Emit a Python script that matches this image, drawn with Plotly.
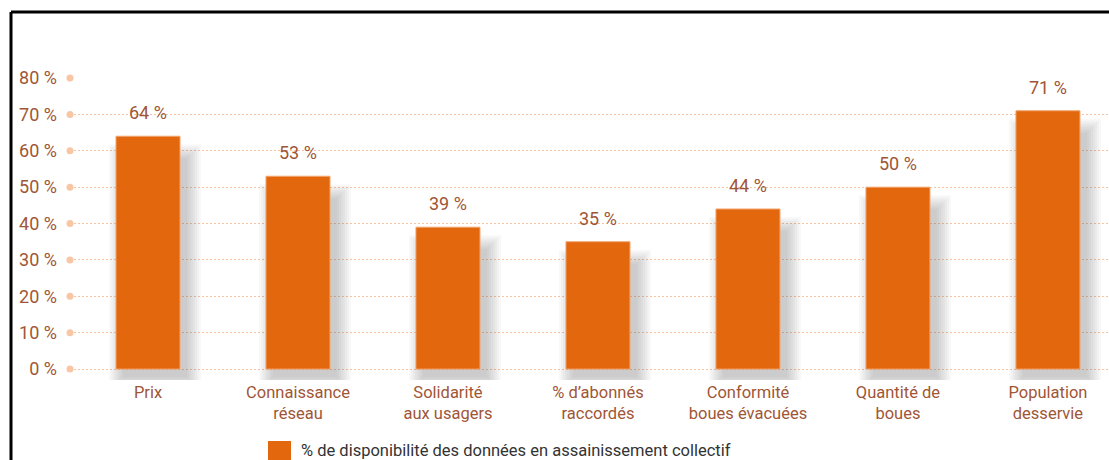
import plotly.graph_objects as go

# Indicator availability for collective sanitation services
categories = [
    "Prix",
    "Connaissance<br>réseau",
    "Solidarité<br>aux usagers",
    "% d’abonnés<br>raccordés",
    "Conformité<br>boues évacuées",
    "Quantité de<br>boues",
    "Population<br>desservie",
]
values = [64, 53, 39, 35, 44, 50, 71]
y_ticks = [0, 10, 20, 30, 40, 50, 60, 70, 80]
y_tick_labels = [f"{v} %" for v in y_ticks]
series_name = "% de disponibilité des données en assainissement collectif"

BAR_COLOR = "#E3670D"
TEXT_COLOR = "#A05636"
GRID_COLOR = "#F7C2A0"
FONT = "Roboto, Liberation Sans, Arial, sans-serif"

W, H = 1109, 460
M_L, M_T, M_B = 70, 78, 80
PLOT_W = W - M_L
PLOT_H = H - M_T - M_B

x_pos = list(range(len(categories)))
x_min, x_max = -0.52, 6.407
y_min, y_max = -3, 80
PX_X = PLOT_W / (x_max - x_min)   # pixels per category unit
PX_Y = PLOT_H / (y_max - y_min)   # pixels per percentage point
bar_w = 64 / PX_X


def paper_x(px):
    return (px - M_L) / PLOT_W


def paper_y(py):
    return (H - M_B - py) / PLOT_H


fig = go.Figure()

# soft drop shadow: stacked translucent grey rectangles, shifted right/down,
# each layer slightly larger to fake a blur
shift_x, shift_y, top_drop = 7, 8, 22
for spread in range(0, 16, 2):
    s_x = spread / PX_X
    s_y = spread / PX_Y
    base = -shift_y / PX_Y - s_y
    tops = [v - top_drop / PX_Y + s_y for v in values]
    fig.add_trace(go.Bar(
        x=x_pos,
        y=[t - base for t in tops],
        base=[base] * len(values),
        width=[bar_w + 2 * s_x] * len(values),
        offset=[-bar_w / 2 + shift_x / PX_X - s_x] * len(values),
        marker=dict(color="rgba(90,90,90,0.045)", line=dict(width=0)),
        hoverinfo="skip",
        showlegend=False,
    ))

fig.add_trace(go.Bar(
    x=x_pos,
    y=values,
    width=bar_w,
    name=series_name,
    marker=dict(color=BAR_COLOR, line=dict(color="#F2A46E", width=1)),
    showlegend=False,
))

# dots marking the left end of each gridline
fig.add_trace(go.Scatter(
    x=[x_min] * len(y_ticks),
    y=y_ticks,
    mode="markers",
    marker=dict(color="#F8C6A4", size=7),
    cliponaxis=False,
    hoverinfo="skip",
    showlegend=False,
))

for xp, v in zip(x_pos, values):
    fig.add_annotation(
        x=xp, y=v, text=f"{v} %", showarrow=False,
        yanchor="bottom", yshift=11,
        font=dict(family=FONT, size=18, color=TEXT_COLOR),
    )

# legend key and label
fig.add_shape(type="rect", xref="paper", yref="paper",
              x0=paper_x(268), x1=paper_x(291),
              y0=paper_y(441), y1=paper_y(462),
              fillcolor=BAR_COLOR, line=dict(width=0))
fig.add_annotation(
    xref="paper", yref="paper",
    x=paper_x(299), y=paper_y(450),
    xanchor="left", yanchor="middle", showarrow=False,
    text=series_name,
    font=dict(family=FONT, size=16.5, color="#333333"),
)

# frame lines along the top and left
frame_top = paper_y(12)
frame_left = paper_x(11)
fig.add_shape(type="line", xref="paper", yref="paper",
              x0=frame_left, x1=1.05, y0=frame_top, y1=frame_top,
              line=dict(color="black", width=3))
fig.add_shape(type="line", xref="paper", yref="paper",
              x0=frame_left, x1=frame_left, y0=frame_top, y1=paper_y(475),
              line=dict(color="black", width=3))

fig.update_layout(
    width=W, height=H,
    margin=dict(l=M_L, r=0, t=M_T, b=M_B),
    plot_bgcolor="white", paper_bgcolor="white",
    barmode="overlay",
    xaxis=dict(
        range=[x_min, x_max], tickvals=x_pos, ticktext=categories,
        showgrid=False, zeroline=False, showline=False, ticks="",
        tickfont=dict(family=FONT, size=16.5, color=TEXT_COLOR),
    ),
    yaxis=dict(
        range=[y_min, y_max], tickvals=y_ticks, ticktext=y_tick_labels,
        showgrid=True, gridcolor=GRID_COLOR, griddash="2px,2px", gridwidth=1,
        zeroline=False, showline=False, ticks="", ticklabelstandoff=12,
        tickfont=dict(family=FONT, size=18, color=TEXT_COLOR),
    ),
)
fig.write_html("out.html")
